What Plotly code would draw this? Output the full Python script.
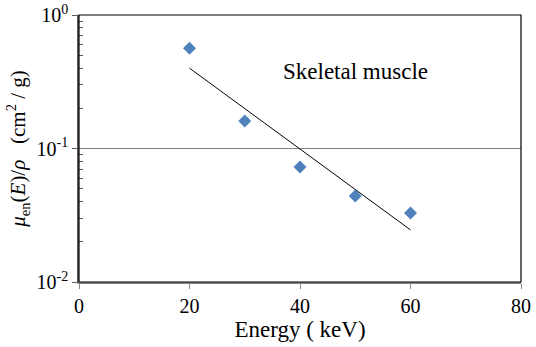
import numpy as np
import plotly.graph_objects as go

energy = [20, 30, 40, 50, 60]
mu_en = [0.563, 0.161, 0.0727, 0.0441, 0.0329]
x_ticks = [0, 20, 40, 60, 80]
y_ticks = [0.01, 0.1, 1]
y_ticktext = ["10<sup>-2</sup>", "10<sup>-1</sup>", "10<sup>0</sup>"]

# exponential trendline fit (as in spreadsheet trendline)
b, a = np.polyfit(energy, np.log(mu_en), 1)
fit_x = [min(energy), max(energy)]
fit_y = [float(np.exp(a + b * v)) for v in fit_x]

font = "Liberation Serif, Times New Roman, serif"

fig = go.Figure()
fig.add_trace(go.Scatter(x=fit_x, y=fit_y, mode="lines",
                         line=dict(color="black", width=1), showlegend=False))
fig.add_trace(go.Scatter(x=energy, y=mu_en, mode="markers",
                         marker=dict(symbol="diamond", size=10, color="#4F81BD",
                                     line=dict(width=0)),
                         showlegend=False))

minor_vals = [k * 10.0 ** e for e in (-2, -1) for k in range(2, 10)]

fig.update_layout(
    width=536, height=347,
    margin=dict(l=79, r=15, t=15, b=65),
    paper_bgcolor="white", plot_bgcolor="white",
    font=dict(family=font, size=20, color="black"),
    xaxis=dict(range=[0, 80], tickvals=x_ticks, ticks="outside", ticklen=5,
               tickcolor="#868686", showgrid=False, zeroline=False,
               showline=True, linecolor="#868686", linewidth=1.5,
               automargin=False,
               title=dict(text="Energy ( keV)", font=dict(size=23, family=font), standoff=2),
               tickfont=dict(size=20, family=font)),
    yaxis=dict(type="log", range=[-2, 0], tickmode="array", tickvals=y_ticks,
               ticktext=y_ticktext, ticks="outside", ticklen=5, tickcolor="#595959",
               showgrid=True, gridcolor="#808080", gridwidth=1,
               showline=True, linecolor="#595959", linewidth=1.5, zeroline=False,
               automargin=False,
               minor=dict(tickmode="array", tickvals=minor_vals, ticks="inside",
                          ticklen=4, tickcolor="#595959", showgrid=False),
               title=dict(text="<i>μ</i><sub>en</sub>(<i>E</i>)/<i>ρ</i>   (cm<sup>2</sup> / g)",
                          font=dict(size=21, family=font), standoff=5),
               tickfont=dict(size=20, family=font)),
    shapes=[dict(type="rect", xref="paper", yref="paper", x0=0, x1=1, y0=0, y1=1,
                 line=dict(color="black", width=1.2), layer="above")],
    annotations=[dict(text="Skeletal muscle", x=50, y=np.log10(0.38), xref="x", yref="y",
                      showarrow=False, font=dict(size=23, family=font))],
)

fig.write_html("out.html", config={"displayModeBar": False})
with open("out.html", encoding="utf-8") as f:
    html = f.read()
html = html.replace("<head>", "<head><style>html,body{margin:0;padding:0;overflow:hidden;}</style>", 1)
with open("out.html", "w", encoding="utf-8") as f:
    f.write(html)
